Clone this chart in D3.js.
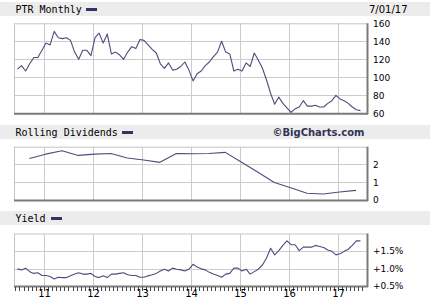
<!DOCTYPE html>
<html>
<head>
<meta charset="utf-8">
<script src="https://cdn.jsdelivr.net/npm/d3@7"></script>
<style>
  body { margin: 0; background: #fff; }
  svg { display: block; }
  .grid line { stroke: #cccccc; shape-rendering: crispEdges; }
  .grid path { display: none; }
  .rlab text { font-family: "DejaVu Sans", sans-serif; font-size: 9px; fill: #000; }
  .rlab path, .rlab line { display: none; }
</style>
</head>
<body>
<div id="chart"></div>
<script>
// monthly series, mid-June 2010 .. mid-June 2017
var firstMonth = 2010 + 5.5 / 12;
var priceValues = [
  109, 113, 107, 115, 122, 122, 130, 138, 136, 151,
  144, 143, 144, 141, 128, 120, 130, 130, 124, 144,
  149, 138, 148, 126, 128, 125, 120, 128, 134, 132,
  142, 141, 136, 131, 127, 115, 110, 116, 108, 109,
  112, 117, 108, 96, 104, 107, 113, 117, 123, 128,
  140, 128, 126, 107, 109, 107, 116, 112, 127, 119,
  110, 97, 82, 70, 78, 71, 66, 61, 65, 67,
  74, 68, 68, 69, 67, 67, 71, 74, 80, 76,
  74, 71, 67, 64, 63
];
var yieldValues = [
  0.99, 0.96, 1.01, 0.91, 0.86, 0.88, 0.80, 0.80, 0.77, 0.70,
  0.75, 0.74, 0.74, 0.79, 0.84, 0.88, 0.84, 0.84, 0.86, 0.77,
  0.74, 0.79, 0.74, 0.84, 0.84, 0.86, 0.88, 0.82, 0.80, 0.80,
  0.75, 0.75, 0.79, 0.82, 0.86, 0.93, 0.98, 0.93, 1.01, 0.98,
  0.96, 0.93, 0.98, 1.12, 1.04, 0.99, 0.96, 0.89, 0.84, 0.80,
  0.75, 0.84, 0.86, 1.01, 1.01, 0.93, 0.98, 0.84, 0.91, 0.98,
  1.10, 1.30, 1.58, 1.39, 1.51, 1.66, 1.79, 1.68, 1.68, 1.51,
  1.61, 1.61, 1.61, 1.66, 1.63, 1.60, 1.53, 1.49, 1.39, 1.42,
  1.49, 1.55, 1.66, 1.79, 1.79
];
// rolling dividends, every 4 months from Sep 2010
var firstDiv = 2010 + 8.4 / 12;
var dividendValues = [
  2.34, 2.58, 2.77, 2.51, 2.58, 2.62, 2.36, 2.25, 2.12, 2.62,
  2.60, 2.62, 2.68, 2.12, 1.56, 0.99, 0.69, 0.38, 0.34, 0.45, 0.54
];
var priceTicks = [60, 80, 100, 120, 140, 160];
var dividendTicks = [0, 1, 2];
var yieldTicks = [0.5, 1.0, 1.5];
var yearTicks = [2011, 2012, 2013, 2014, 2015, 2016, 2017];

var W = 430, H = 305;
var left = 14, right = 367;
var lineColor = "#4d4d7d";

var svg = d3.select("#chart").append("svg")
  .attr("width", W)
  .attr("height", H);

var x = d3.scaleLinear()
  .domain([2010.388, 2017.592])
  .range([left, right]);

var priceData = priceValues.map(function(v, i) { return {t: firstMonth + i / 12, v: v}; });
var yieldData = yieldValues.map(function(v, i) { return {t: firstMonth + i / 12, v: v}; });
var divData = dividendValues.map(function(v, i) { return {t: firstDiv + i / 3, v: v}; });

// header band with title, legend swatch
function header(y0, h, title, swatchX, baseline) {
  svg.append("rect")
    .attr("x", 0).attr("y", y0)
    .attr("width", W).attr("height", h)
    .attr("fill", "#ececec");
  svg.append("text")
    .attr("x", 15.5).attr("y", baseline)
    .attr("font-family", "DejaVu Sans Mono, monospace")
    .attr("font-size", "10px")
    .text(title);
  svg.append("rect")
    .attr("x", swatchX).attr("y", baseline - 5)
    .attr("width", 11).attr("height", 3)
    .attr("fill", "#333366");
}

// a framed panel with grid, line and right labels
function panel(top, bottom, yDomain, ticks, gridTicks, data, fmt) {
  var y = d3.scaleLinear().domain(yDomain).range([bottom, top]);
  var g = svg.append("g");

  g.append("rect")
    .attr("x", left).attr("y", top)
    .attr("width", right - left).attr("height", bottom - top)
    .attr("fill", "#fff");

  // vertical year lines
  g.append("g")
    .attr("class", "grid")
    .attr("transform", "translate(0," + bottom + ")")
    .call(d3.axisBottom(x).tickValues(yearTicks).tickSize(-(bottom - top)).tickFormat(""));

  // horizontal lines
  g.append("g")
    .attr("class", "grid")
    .attr("transform", "translate(" + left + ",0)")
    .call(d3.axisLeft(y).tickValues(gridTicks).tickSize(-(right - left)).tickFormat(""));

  // frame: light top/left, dark bottom/right
  g.append("line").attr("x1", left).attr("x2", right).attr("y1", top + 0.5).attr("y2", top + 0.5)
    .attr("stroke", "#c4c4c4");
  g.append("line").attr("x1", left + 0.5).attr("x2", left + 0.5).attr("y1", top).attr("y2", bottom)
    .attr("stroke", "#c4c4c4");
  g.append("line").attr("x1", left).attr("x2", right + 1).attr("y1", bottom + 0.5).attr("y2", bottom + 0.5)
    .attr("stroke", "#7a7a7a").attr("stroke-width", 2);
  g.append("line").attr("x1", right + 0.5).attr("x2", right + 0.5).attr("y1", top).attr("y2", bottom + 1)
    .attr("stroke", "#7a7a7a").attr("stroke-width", 2);

  var line = d3.line()
    .x(function(d) { return x(d.t); })
    .y(function(d) { return y(d.v); });

  g.append("path")
    .datum(data)
    .attr("fill", "none")
    .attr("stroke", lineColor)
    .attr("stroke-width", 1.1)
    .attr("stroke-linejoin", "round")
    .attr("d", line);

  g.append("g")
    .attr("class", "rlab")
    .attr("transform", "translate(" + (right + 3) + ",0)")
    .call(d3.axisRight(y).tickValues(ticks).tickSize(0).tickPadding(3).tickFormat(fmt));

  return y;
}

// top: price
header(2, 14, "PTR Monthly", 86, 13);
svg.append("text")
  .attr("x", 369).attr("y", 13)
  .attr("font-family", "DejaVu Sans, sans-serif")
  .attr("font-size", "10px")
  .text("7/01/17");
panel(23.3, 113.3, [60, 160], priceTicks, [80, 100, 120, 140], priceData, d3.format("d"));

// middle: rolling dividends
header(125, 14, "Rolling Dividends", 122, 136);
svg.append("text")
  .attr("x", 318.5).attr("y", 135.5)
  .attr("text-anchor", "middle")
  .attr("font-family", "DejaVu Sans, sans-serif")
  .attr("font-size", "10px")
  .attr("font-weight", "bold")
  .attr("fill", "#333355")
  .text("\u00A9BigCharts.com");
panel(146.7, 200, [0, 3], dividendTicks, [1, 2], divData, d3.format("d"));

// bottom: yield
header(211, 14, "Yield", 51, 222);
panel(233.5, 286, [0.5, 2.0], yieldTicks, [1.0, 1.5], yieldData, function(d) { return "+" + d.toFixed(1) + "%"; });

// monthly ticks + year labels
var monthTicks = d3.range(0, 86).map(function(k) { return 2010 + 5 / 12 + k / 12; });
var mt = svg.append("g")
  .attr("transform", "translate(0,287)")
  .call(d3.axisBottom(x).tickValues(monthTicks).tickSize(4).tickFormat(""));
mt.select(".domain").remove();
mt.selectAll("line").attr("stroke", "#444").attr("shape-rendering", "crispEdges");

var yl = svg.append("g")
  .attr("transform", "translate(0,288)")
  .call(d3.axisBottom(x).tickValues(yearTicks).tickSize(0).tickPadding(2)
    .tickFormat(function(d) { return String(d).slice(2); }));
yl.select(".domain").remove();
yl.selectAll("text")
  .attr("font-family", "DejaVu Sans, sans-serif")
  .attr("font-size", "10px")
  .attr("fill", "#000");
</script>
</body>
</html>
